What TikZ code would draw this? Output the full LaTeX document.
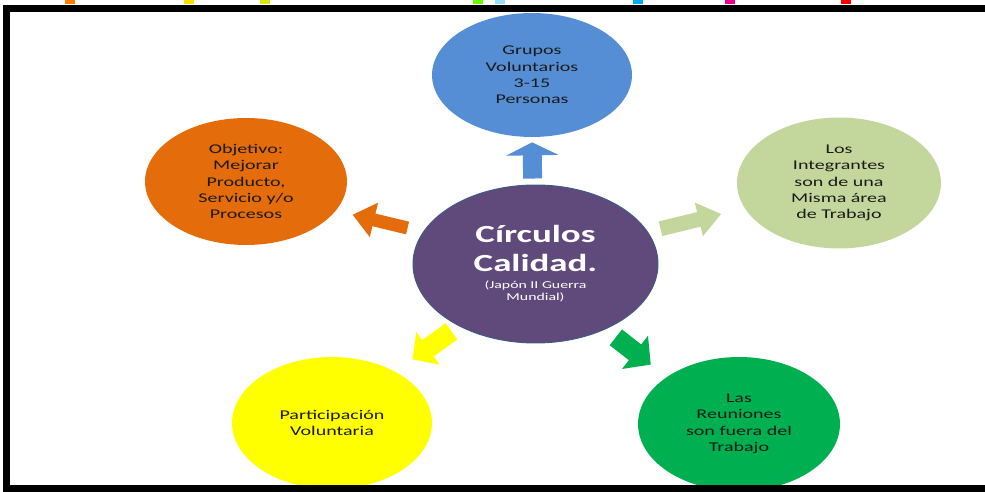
\documentclass[tikz,border=0pt]{standalone}
\usepackage{fontspec}
\setmainfont{Carlito}[FakeStretch=1.5]
\usepackage{xcolor}
\usetikzlibrary{arrows.meta,shapes.geometric}

\definecolor{azul}{HTML}{558ED5}
\definecolor{naranja}{HTML}{E46C0A}
\definecolor{verdeclaro}{HTML}{C3D69B}
\definecolor{morado}{HTML}{604A7B}
\definecolor{bordemorado}{HTML}{3E5A85}
\definecolor{amarillo}{HTML}{FFFF00}
\definecolor{verde}{HTML}{00B050}
\definecolor{texto}{HTML}{1A1A1A}

\begin{document}
\begin{tikzpicture}[x=0.02cm, y=-0.02cm,
	circulo/.style={ellipse, inner sep=0pt, align=center, text=texto, font=\fontsize{7.6}{9.3}\selectfont},
	flecha/.style={line width=0.34cm, -{Triangle[width=0.8cm,length=0.4cm]}}]
		\clip (0,0) rectangle (985,492);
		
		\foreach \x/\c in {70/orange, 189/yellow!80!orange, 265/yellow!85!green, 478/green!60!yellow, 500/cyan!40, 638/cyan, 730/magenta, 846/red}{
			\fill[\c] (\x-5,0) rectangle (\x+5,4);
		}
		
		\node[circulo, fill=azul, minimum width=4cm, minimum height=2.48cm] (grupos) at (532,75) {Grupos\\Voluntarios\\3-15\\Personas};
		\node[circulo, fill=naranja, minimum width=4.04cm, minimum height=2.54cm] (objetivo) at (246,181.5) {Objetivo:\\Mejorar\\Producto,\\Servicio y/o\\Procesos};
		\node[circulo, fill=verdeclaro, minimum width=4.08cm, minimum height=2.62cm] (integrantes) at (839,183) {Los\\Integrantes\\son de una\\Misma área\\de Trabajo};
		\node[circulo, fill=amarillo, minimum width=4cm, minimum height=2.64cm] (participacion) at (332,423) {Participación\\Voluntaria};
		\node[circulo, fill=verde, minimum width=4.04cm, minimum height=2.68cm] (reuniones) at (739,424) {Las\\Reuniones\\son fuera del\\Trabajo};
		
		\node[circulo, fill=morado, draw=bordemorado, line width=0.02cm, minimum width=4.9cm, minimum height=3.16cm, text=white, font=\fontsize{6}{6.8}\selectfont] (centro) at (535.5,264) {{\fontsize{14}{17}\selectfont\bfseries Círculos}\\[5.5pt]{\fontsize{14}{17}\selectfont\bfseries Calidad.}\\[2.9pt](Japón II Guerra\\Mundial)};
		
		\draw[flecha, azul, line width=0.38cm, -{Triangle[width=1.04cm,length=0.26cm]}, shorten <=0.12cm, shorten >=0.1cm] (centro.92) -- (grupos.south);
		\draw[flecha, naranja, line width=0.26cm, -{Triangle[width=0.68cm,length=0.44cm]}, shorten <=0.32cm, shorten >=0.34cm] (centro.164.8) -- (objetivo.-18);
		\draw[flecha, verdeclaro, line width=0.3cm, -{Triangle[width=0.66cm,length=0.46cm]}, shorten <=0.26cm, shorten >=0.48cm] (centro.16.1) -- (integrantes.195.3);
		\draw[flecha, amarillo, line width=0.4cm, -{Triangle[width=0.78cm,length=0.38cm]}, shorten <=0.18cm, shorten >=0.42cm] (centro.219.5) -- (participacion.39.4);
		\draw[flecha, verde, line width=0.4cm, -{Triangle[width=0.82cm,length=0.4cm]}, shorten <=0.26cm, shorten >=0.4cm] (centro.-43) -- (reuniones.147.4);
		
		\draw[line width=0.14cm] (6.5,8.5) rectangle (1010,488.5);
	\end{tikzpicture}
\end{document}
